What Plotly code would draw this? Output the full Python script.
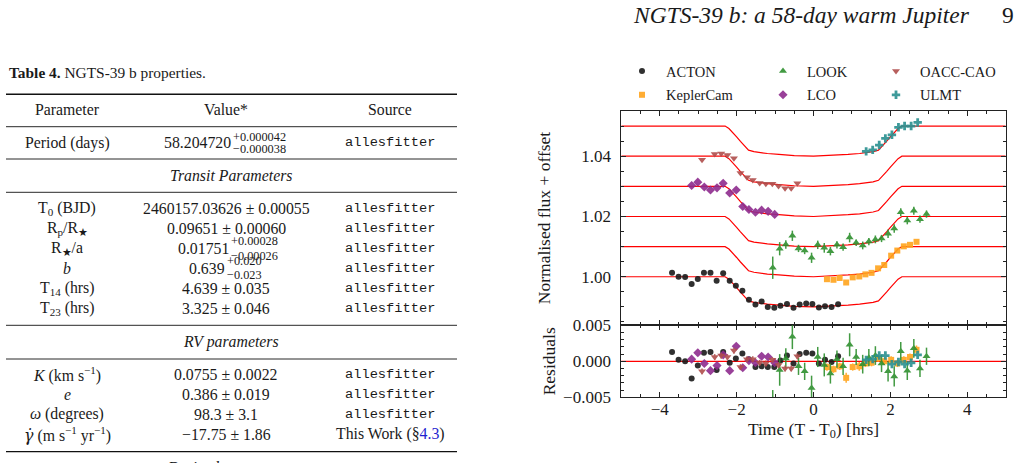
import plotly.graph_objects as go

W, H = 1024, 463
def px(x): return x / W
def py(y): return 1 - y / H

SERIF = "Liberation Serif"
MONO = "Liberation Mono"
INK = "#1a1a1a"

# ---------------- chart data (time in hours from T0) ----------------
OFFSETS = [1.00, 1.01, 1.02, 1.03, 1.04, 1.05]

MODEL_T = [-5.0, -2.30, -2.20, -2.10, -2.00, -1.90, -1.80, -1.69, -1.55, -1.40, -1.20, -0.90, -0.50, 0.0,
           0.50, 0.90, 1.20, 1.40, 1.55, 1.69, 1.80, 1.90, 2.00, 2.10, 2.20, 2.30, 5.0]
MODEL_DEPTH = [0, 0, 0.0008, 0.0021, 0.0036, 0.0051, 0.0066, 0.0080, 0.0085, 0.0088, 0.0091, 0.0094, 0.0098, 0.0100,
               0.0098, 0.0094, 0.0091, 0.0088, 0.0085, 0.0080, 0.0066, 0.0051, 0.0036, 0.0021, 0.0008, 0, 0]

ACTON_T = [-3.68, -3.51, -3.34, -3.17, -3.01, -2.85, -2.68, -2.52, -2.35, -2.18, -2.02, -1.85, -1.68, -1.51,
           -1.35, -1.19, -1.02, -0.86, -0.69, -0.52, -0.36, -0.19, -0.03, 0.14, 0.30, 0.47, 0.64]
ACTON_F = [1.0013, 1.0000, 0.9999, 0.9976, 0.9993, 1.0013, 1.0013, 0.9987, 1.0012, 0.9987, 0.9970, 0.9954, 0.9924,
           0.9908, 0.9918, 0.9900, 0.9897, 0.9904, 0.9910, 0.9897, 0.9908, 0.9911, 0.9910, 0.9898, 0.9902, 0.9900, 0.9909]
ACTON_R = [0.0013, 0.0002, 0.0000, -0.0024, -0.0006, 0.0012, 0.0013, -0.0012, 0.0013, -0.0002, 0.0004, 0.0011,
           0.0003, -0.0008, -0.0007, -0.0008, -0.0008, 0.0001, 0.0008, -0.0003, 0.0010, 0.0012, 0.0011, -0.0003,
           0.0002, -0.0001, 0.0007]
ACTON_E = [0.0003, 0.0003, 0.0003, 0.0003, 0.0003, 0.0003, 0.0003, 0.0003, 0.0003, 0.0003, 0.0003, 0.0003, 0.0003,
           0.0003, 0.0003, 0.0003, 0.0003, 0.0003, 0.0003, 0.0003, 0.0003, 0.0003, 0.0003, 0.0003, 0.0003, 0.0003, 0.0003]

KEPLERCAM_T = [0.35, 0.52, 0.68, 0.85, 1.02, 1.19, 1.35, 1.51, 1.68, 1.84, 2.02, 2.18, 2.35, 2.51, 2.68]
KEPLERCAM_F = [0.9992, 0.9990, 0.9996, 0.9981, 0.9998, 1.0001, 1.0008, 1.0013, 1.0028, 1.0039, 1.0070, 1.0087,
               1.0101, 1.0106, 1.0116]
KEPLERCAM_R = [-0.0008, -0.0011, -0.0007, -0.0023, -0.0008, -0.0007, -0.0003, -0.0002, 0.0004, 0.0000, 0.0002,
               -0.0003, 0.0002, 0.0006, 0.0016]
KEPLERCAM_E = [0.0005, 0.0005, 0.0005, 0.0007, 0.0005, 0.0006, 0.0005, 0.0005, 0.0005, 0.0005, 0.0005, 0.0005,
               0.0005, 0.0005, 0.0006]

LOOK_T = [-1.06, -0.88, -0.72, -0.55, -0.39, -0.23, -0.05, 0.11, 0.28, 0.44, 0.61, 0.77, 0.94, 1.11, 1.28, 1.44,
          1.61, 1.77, 1.94, 2.10, 2.27, 2.44, 2.61, 2.77, 2.94]
LOOK_F = [1.0030, 1.0093, 1.0107, 1.0136, 1.0094, 1.0087, 1.0063, 1.0106, 1.0096, 1.0085, 1.0106, 1.0098, 1.0130,
          1.0113, 1.0104, 1.0117, 1.0124, 1.0127, 1.0143, 1.0160, 1.0214, 1.0187, 1.0219, 1.0191, 1.0208]
LOOK_R = [-0.0077, -0.0012, 0.0004, 0.0034, -0.0007, -0.0014, -0.0037, 0.0006, -0.0005, -0.0017, 0.0003, -0.0007,
          0.0023, 0.0006, -0.0004, 0.0005, 0.0008, -0.0003, -0.0014, -0.0021, 0.0014, -0.0013, 0.0018, -0.0010, 0.0007]
LOOK_E = [0.0037, 0.0022, 0.0014, 0.0017, 0.0012, 0.0012, 0.0017, 0.0014, 0.0016, 0.0014, 0.0012, 0.0012, 0.0016,
          0.0011, 0.0013, 0.0012, 0.0013, 0.0012, 0.0014, 0.0014, 0.0013, 0.0013, 0.0013, 0.0012, 0.0012]

LCO_T = [-3.17, -3.01, -2.84, -2.68, -2.51, -2.35, -2.18, -2.01, -1.84, -1.68, -1.51, -1.35, -1.18, -1.01]
LCO_F = [1.0303, 1.0314, 1.0298, 1.0288, 1.0295, 1.0310, 1.0278, 1.0288, 1.0233, 1.0223, 1.0214, 1.0221, 1.0217, 1.0207]
LCO_R = [0.0003, 0.0012, -0.0003, -0.0013, -0.0006, 0.0009, -0.0013, 0.0021, -0.0009, 0.0001, -0.0002, 0.0007,
         0.0006, -0.0002]
LCO_E = [0.0004, 0.0004, 0.0004, 0.0004, 0.0004, 0.0004, 0.0004, 0.0004, 0.0004, 0.0004, 0.0004, 0.0004, 0.0004, 0.0004]

OACC_T = [-2.90, -2.57, -2.40, -2.24, -2.07, -1.90, -1.73, -1.58, -1.40, -1.24, -1.07, -0.91, -0.74, -0.58, -0.42]
OACC_F = [1.0388, 1.0407, 1.0409, 1.0404, 1.0393, 1.0344, 1.0330, 1.0321, 1.0311, 1.0309, 1.0309, 1.0301, 1.0294,
          1.0294, 1.0310]
OACC_R = [-0.0014, 0.0006, 0.0008, 0.0006, 0.0015, -0.0008, 0.0003, 0.0003, -0.0002, -0.0003, 0.0002, -0.0005,
          -0.0010, -0.0010, 0.0007]
OACC_E = [0.0004, 0.0004, 0.0004, 0.0004, 0.0004, 0.0004, 0.0004, 0.0004, 0.0004, 0.0004, 0.0004, 0.0004, 0.0004,
          0.0004, 0.0004]

ULMT_T = [1.37, 1.54, 1.71, 1.87, 2.04, 2.21, 2.37, 2.54, 2.71]
ULMT_F = [1.0416, 1.0421, 1.0437, 1.0459, 1.0471, 1.0496, 1.0500, 1.0500, 1.0512]
ULMT_R = [0.0002, 0.0003, 0.0008, 0.0008, -0.0004, -0.0001, -0.0004, -0.0002, 0.0009]
ULMT_E = [0.0003, 0.0003, 0.0003, 0.0003, 0.0003, 0.0003, 0.0003, 0.0003, 0.0003]

# name, t, flux, resid, err, color, symbol, size, legend
SERIES = [
    ("ACTON", ACTON_T, ACTON_F, ACTON_R, ACTON_E, "#1a1a1a", "circle", 6, "legend"),
    ("KeplerCam", KEPLERCAM_T, KEPLERCAM_F, KEPLERCAM_R, KEPLERCAM_E, "#FFA51F", "square", 6, "legend"),
    ("LOOK", LOOK_T, LOOK_F, LOOK_R, LOOK_E, "#2E902E", "triangle-up", 7, "legend2"),
    ("LCO", LCO_T, LCO_F, LCO_R, LCO_E, "#8E2C8E", "diamond", 7, "legend2"),
    ("OACC-CAO", OACC_T, OACC_F, OACC_R, OACC_E, "#B04E4C", "triangle-down", 7, "legend3"),
    ("ULMT", ULMT_T, ULMT_F, ULMT_R, ULMT_E, "#2A9090", "cross", 7, "legend3"),
]

X_TICK_STEP = 2
UPPER_RANGE = [0.9839, 1.0551]
LOWER_RANGE = [-0.00501, 0.00501]

# ---------------- table data ----------------
HEADER_LABELS = ["Parameter", "Value*", "Source"]
PARAM_LABELS = ["Period (days)", "T<sub>0</sub> (BJD)", "R<sub>p</sub>/R<sub>★</sub>", "R<sub>★</sub>/a",
                "<i>b</i>", "T<sub>14</sub> (hrs)", "T<sub>23</sub> (hrs)", "<i>K</i> (km s<sup>−1</sup>)",
                "<i>e</i>", "<i>ω</i> (degrees)",
                "<span style='font-family:DejaVu Serif'><i>γ̇</i></span> (m s<sup>−1</sup> yr<sup>−1</sup>)"]
VALUE_MAIN = ["58.204720", "2460157.03626 ± 0.00055", "0.09651 ± 0.00060", "0.01751", "0.639",
              "4.639 ± 0.035", "3.325 ± 0.046", "0.0755 ± 0.0022", "0.386 ± 0.019", "98.3 ± 3.1", "−17.75 ± 1.86"]
VALUE_UP = ["+0.000042", "", "", "+0.00028", "+0.020", "", "", "", "", "", ""]
VALUE_DN = ["−0.000038", "", "", "−0.00026", "−0.023", "", "", "", "", "", ""]
SOURCES = ["allesfitter"] * 10 + ["This Work (§<span style='color:#1f1fd0'>4.3</span>)"]
SECTIONS = ["Transit Parameters", "RV parameters", "Derived parameters"]

# layout positions (pixels)
ROW_Y = [142.7, 208.3, 228.3, 248.3, 268.3, 288.3, 308.3, 374.0, 394.0, 414.0, 434.0]
SUP_X = [232.5, None, None, 230.5, 226.5, None, None, None, None, None, None]
SUP_DY = [(-6.0, 6.6), None, None, (-7.0, 7.2), (-7.4, 6.7), None, None, None, None, None, None]
SECTION_Y = [175.0, 341.7, 468.0]
RULES = [(94.3, 1.6), (126.7, 0.9), (159.0, 0.9), (192.3, 0.9), (325.3, 0.9), (359.0, 0.9), (451.7, 1.2)]
COL_X = [67, 226, 390]

fig = go.Figure()

# model curves
for off in OFFSETS:
    fig.add_trace(go.Scatter(x=MODEL_T, y=[off - d for d in MODEL_DEPTH], mode="lines",
                             line=dict(color="#ff0000", width=1.2), showlegend=False, hoverinfo="skip",
                             xaxis="x", yaxis="y"))

for name, t, f, r, e, col, sym, size, leg in SERIES:
    fig.add_trace(go.Scatter(x=t, y=f, mode="markers", name=name, legend=leg, legendgroup=name,
                             marker=dict(color=col, symbol=sym, size=size, line=dict(width=0)),
                             error_y=dict(type="data", array=e, color=col, thickness=1.5, width=0),
                             xaxis="x", yaxis="y", opacity=0.9))
for name, t, f, r, e, col, sym, size, leg in SERIES:
    fig.add_trace(go.Scatter(x=t, y=r, mode="markers", name=name, showlegend=False, legendgroup=name,
                             marker=dict(color=col, symbol=sym, size=size, line=dict(width=0)),
                             error_y=dict(type="data", array=e, color=col, thickness=1.5, width=0),
                             xaxis="x2", yaxis="y2", opacity=0.9))

shapes = [dict(type="line", xref="x2 domain", yref="y2", x0=0, x1=1, y0=0, y1=0,
               line=dict(color="#ff0000", width=1.2), layer="below")]
for y, w in RULES:
    shapes.append(dict(type="line", xref="paper", yref="paper", x0=px(6), x1=px(457), y0=py(y), y1=py(y),
                       line=dict(color="#111111", width=w)))

ann = []
def text(x, y, s, size=15.8, xanchor="center", family=SERIF, color=INK):
    ann.append(dict(x=px(x), y=py(y), xref="paper", yref="paper", text=s, showarrow=False,
                    xanchor=xanchor, yanchor="middle", font=dict(family=family, size=size, color=color)))

# page header
text(972, 15, "<i>NGTS-39 b: a 58-day warm Jupiter</i>", size=23.5, xanchor="right")
text(1016, 15, "9", size=23.5, xanchor="right")
# caption
text(7, 72, "<b>Table 4.</b> NGTS-39 b properties.", size=15.4, xanchor="left")
# header row
for cx, lab in zip(COL_X, HEADER_LABELS):
    text(cx, 109.5, lab)
# rows
for i, y in enumerate(ROW_Y):
    text(COL_X[0], y, PARAM_LABELS[i])
    if VALUE_UP[i]:
        text(SUP_X[i], y, VALUE_MAIN[i], xanchor="right")
        text(SUP_X[i] - 1.5, y + SUP_DY[i][0], VALUE_UP[i], size=12.3, xanchor="left")
        text(SUP_X[i] - 1.5, y + SUP_DY[i][1], VALUE_DN[i], size=12.3, xanchor="left")
    else:
        text(COL_X[1], y, VALUE_MAIN[i])
    if SOURCES[i] == "allesfitter":
        text(COL_X[2], y, SOURCES[i], size=13.7, family=MONO)
    else:
        text(COL_X[2], y, SOURCES[i])
for s, y in zip(SECTIONS, SECTION_Y):
    text(231, y, "<i>" + s + "</i>")

axis_common = dict(showline=True, linecolor="#222", linewidth=1, mirror="allticks", ticks="inside",
                   ticklen=5, tickwidth=1, tickcolor="#222", showgrid=False, zeroline=False,
                   tickfont=dict(family=SERIF, size=17, color=INK))

leg_common = dict(xanchor="left", yanchor="top", bgcolor="rgba(0,0,0,0)",
                  font=dict(family=SERIF, size=14.5, color=INK), itemwidth=38, tracegroupgap=2)

XD = [px(621.3), px(1005.7)]
fig.update_layout(
    template="none",
    width=W, height=H, margin=dict(l=0, r=0, t=0, b=0, pad=0), paper_bgcolor="white", plot_bgcolor="white",
    showlegend=True,
    xaxis=dict(domain=XD, anchor="y", range=[-5, 5], tick0=0, dtick=X_TICK_STEP, showticklabels=False,
               matches="x2", minor=dict(ticks="inside", ticklen=3, dtick=0.5, tickcolor="#222", showgrid=False),
               **axis_common),
    yaxis=dict(domain=[py(325.3), py(110.7)], anchor="x", range=UPPER_RANGE, tick0=1.0, dtick=0.02,
               tickformat=".2f", ticklabelstandoff=6,
               minor=dict(ticks="inside", ticklen=3, dtick=0.005, tickcolor="#222", showgrid=False),
               title=dict(text="Normalised flux + offset", standoff=26, font=dict(family=SERIF, size=17.5, color=INK)),
               **axis_common),
    xaxis2=dict(domain=XD, anchor="y2", range=[-5, 5], tick0=0, dtick=X_TICK_STEP, ticklabelstandoff=-4,
                minor=dict(ticks="inside", ticklen=3, dtick=0.5, tickcolor="#222", showgrid=False),
                title=dict(text="Time (T - T<sub>0</sub>) [hrs]", standoff=4, font=dict(family=SERIF, size=17.5, color=INK)),
                **axis_common),
    yaxis2=dict(domain=[py(397.3), py(325.3)], anchor="x2", range=LOWER_RANGE, tick0=0, dtick=0.005,
                tickformat=".3f", ticklabelstandoff=6,
                minor=dict(ticks="inside", ticklen=3, dtick=0.001, tickcolor="#222", showgrid=False),
                title=dict(text="Residuals", standoff=2, font=dict(family=SERIF, size=17.5, color=INK)),
                **axis_common),
    legend=dict(x=px(618), y=py(55), **leg_common),
    legend2=dict(x=px(759), y=py(55), **leg_common),
    legend3=dict(x=px(872), y=py(55), **leg_common),
    shapes=shapes, annotations=ann,
)

fig.write_html("out.html",
               post_script="document.documentElement.style.margin='0';document.body.style.margin='0';"
                           "document.body.style.padding='0';document.body.style.overflow='hidden';")
